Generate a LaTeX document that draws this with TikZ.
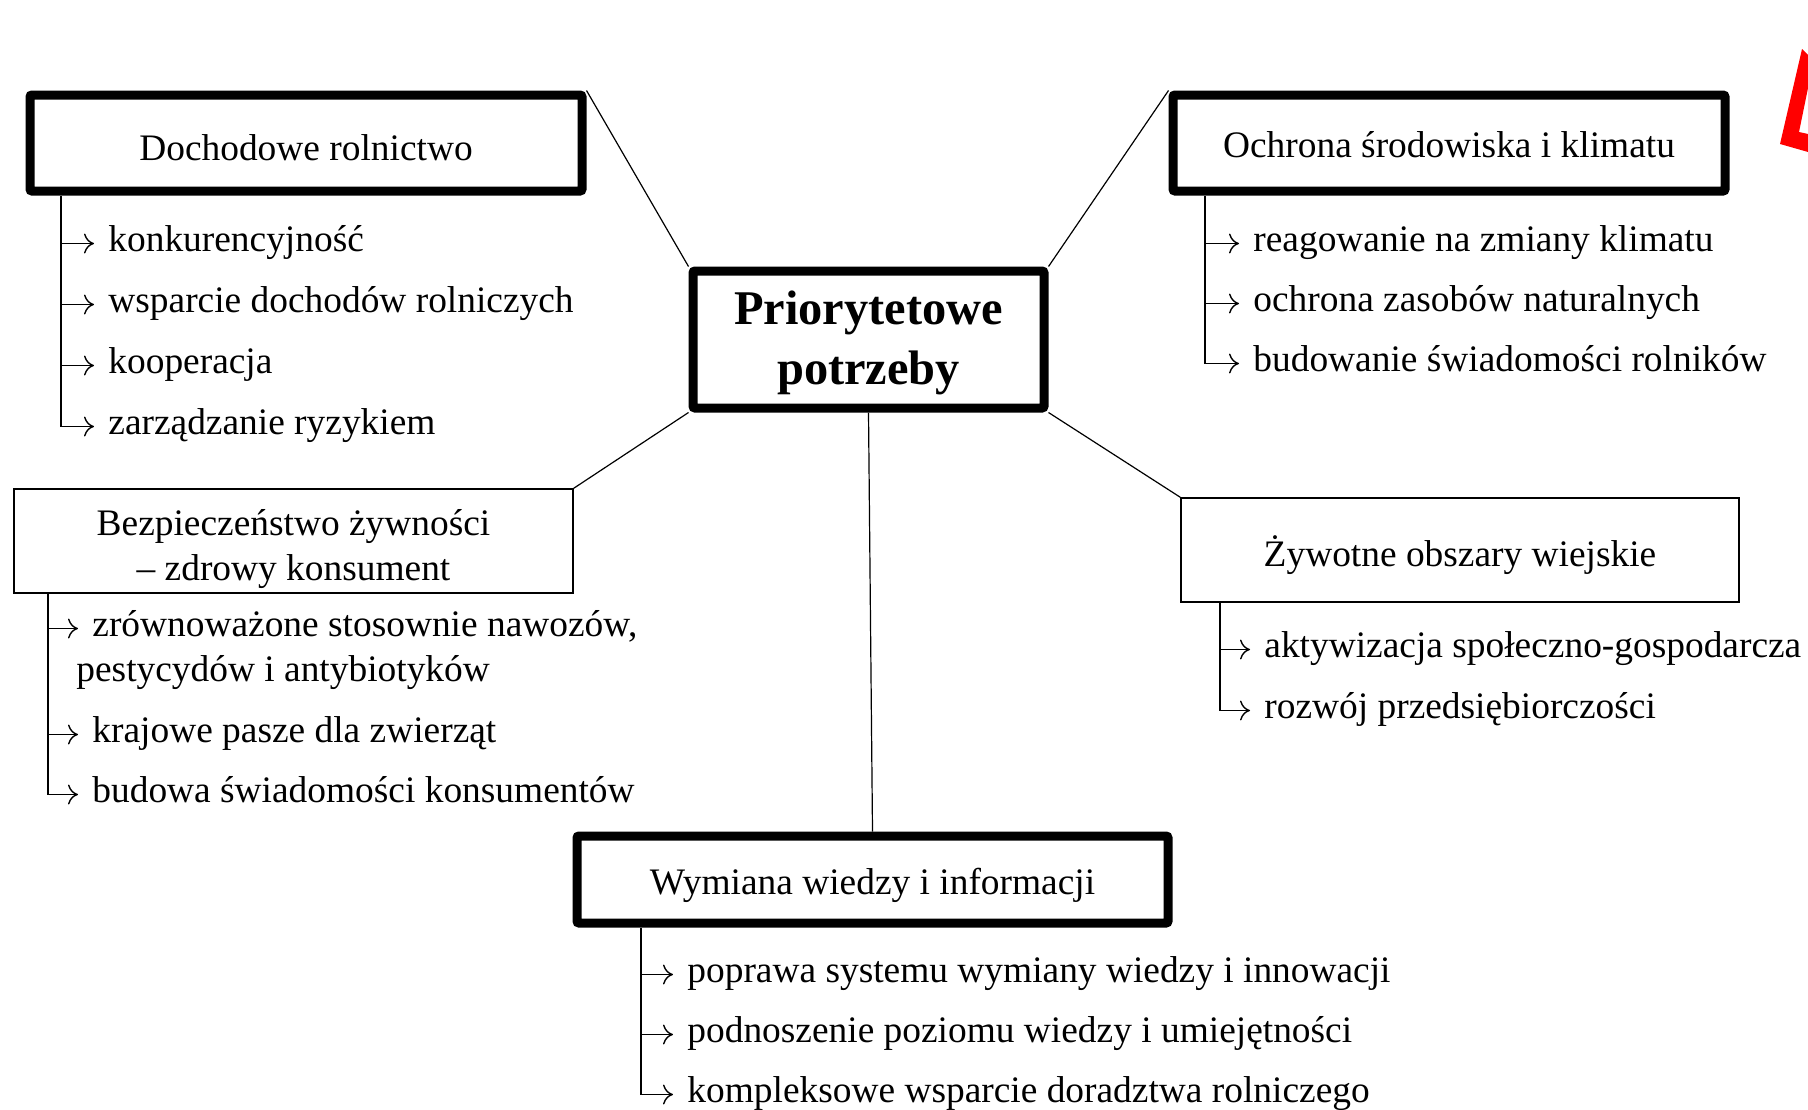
\documentclass[tikz,border=0pt]{standalone}
\usepackage{fontspec}
\setmainfont{Liberation Serif}
\usetikzlibrary{arrows.meta}

\begin{document}
\begin{tikzpicture}[x=0.5pt, y=-0.5pt,
		every node/.style={font=\fontsize{18.7}{22.5}\selectfont},
		thickbox/.style={draw, line width=4.5pt, rounded corners=1pt, align=center},
		thinbox/.style={draw, line width=0.75pt, align=center},
		need/.style={anchor=west, inner sep=0pt, text height=13pt, text depth=5pt},
		link/.style={line width=0.6pt},
		needarrow/.style={line width=0.7pt, -{Computer Modern Rightarrow[length=5pt, width=10pt]}, shorten >=7pt}]
			\useasboundingbox (0,0) rectangle (1808,1109);
			\node[thickbox, minimum width=175.5pt, minimum height=68.5pt, text height=44.7pt, text depth=0pt, font=\bfseries\fontsize{24.2}{30}\selectfont] (potrzeby) at (868.5,339.5) {Priorytetowe\\potrzeby};
			\node[thickbox, minimum width=276pt, minimum height=48pt, text height=17.2pt, text depth=0pt] (dochodowe) at (306,143) {Dochodowe rolnictwo};
			\node[thickbox, minimum width=276pt, minimum height=48pt, text height=14.6pt, text depth=0pt] (ochrona) at (1449,143) {Ochrona środowiska i klimatu};
			\node[thinbox, minimum width=279.5pt, minimum height=52pt, text height=39pt, text depth=0pt] (bezpieczenstwo) at (293.5,541) {Bezpieczeństwo żywności\\– zdrowy konsument};
			\node[thinbox, minimum width=279pt, minimum height=52pt, text height=16.6pt, text depth=0pt] (zywotne) at (1460,550) {Żywotne obszary wiejskie};
			\node[thickbox, minimum width=295.5pt, minimum height=43.5pt, text height=14.8pt, text depth=0pt] (wymiana) at (872.5,879.5) {Wymiana wiedzy i informacji};

			\draw[link] (dochodowe.north east) -- (potrzeby.north west);
			\draw[link] (ochrona.north west) -- (potrzeby.north east);
			\draw[link] (bezpieczenstwo.north east) -- (potrzeby.south west);
			\draw[link] (zywotne.north west) -- (potrzeby.south east);
			\draw[link] (potrzeby.south) -- (wymiana.north);

			\node[need] (d1) at (108,243.5) {konkurencyjność};
			\node[need] (d2) at (108,304.5) {wsparcie dochodów rolniczych};
			\node[need] (d3) at (108,365.5) {kooperacja};
			\node[need] (d4) at (108,426.5) {zarządzanie ryzykiem};
			\coordinate (dtrunk) at (61,196);
			\draw[link] (dtrunk) -- (dtrunk |- d4.west);
			\foreach \n in {d1,d2,d3,d4}
				\draw[needarrow] (dtrunk |- \n.west) -- (\n.west);

			\node[need] (o1) at (1253,243.5) {reagowanie na zmiany klimatu};
			\node[need] (o2) at (1253,303.5) {ochrona zasobów naturalnych};
			\node[need] (o3) at (1253,363.5) {budowanie świadomości rolników};
			\coordinate (otrunk) at (1205,196);
			\draw[link] (otrunk) -- (otrunk |- o3.west);
			\foreach \n in {o1,o2,o3}
				\draw[needarrow] (otrunk |- \n.west) -- (\n.west);

			\node[need] (b1) at (92,628.5) {zrównoważone stosownie nawozów,};
			\node[need] (b1b) at (76,673.5) {pestycydów i antybiotyków};
			\node[need] (b2) at (92,734.5) {krajowe pasze dla zwierząt};
			\node[need] (b3) at (92,794.5) {budowa świadomości konsumentów};
			\coordinate (btrunk) at (48,593);
			\draw[link] (btrunk) -- (btrunk |- b3.west);
			\foreach \n in {b1,b2,b3}
				\draw[needarrow] (btrunk |- \n.west) -- (\n.west);

			\node[need] (z1) at (1264,649.5) {aktywizacja społeczno-gospodarcza};
			\node[need] (z2) at (1264,710.5) {rozwój przedsiębiorczości};
			\coordinate (ztrunk) at (1220,602);
			\draw[link] (ztrunk) -- (ztrunk |- z2.west);
			\foreach \n in {z1,z2}
				\draw[needarrow] (ztrunk |- \n.west) -- (\n.west);

			\node[need] (w1) at (687,974.5) {poprawa systemu wymiany wiedzy i innowacji};
			\node[need] (w2) at (687,1034.5) {podnoszenie poziomu wiedzy i umiejętności};
			\node[need] (w3) at (687,1094.5) {kompleksowe wsparcie doradztwa rolniczego};
			\coordinate (wtrunk) at (641,928);
			\draw[link] (wtrunk) -- (wtrunk |- w3.west);
			\foreach \n in {w1,w2,w3}
				\draw[needarrow] (wtrunk |- \n.west) -- (\n.west);

			\fill[red] (1802,49) -- (1808,55) -- (1808,88) -- (1799,132) -- (1808,134) -- (1808,152) -- (1780,144) -- cycle;
		\end{tikzpicture}
\end{document}
